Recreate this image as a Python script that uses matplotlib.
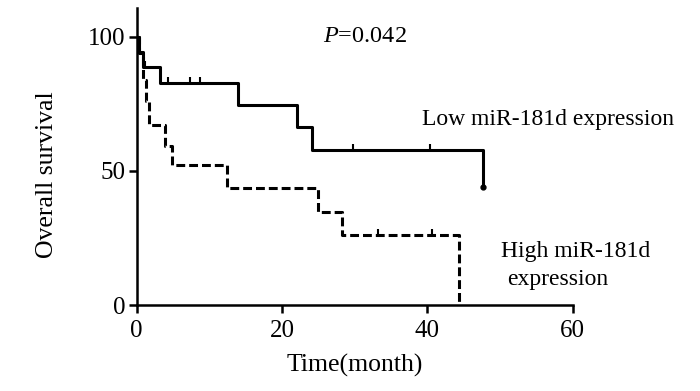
import matplotlib
matplotlib.use("Agg")
import matplotlib.pyplot as plt
from matplotlib.markers import TICKUP

plt.rcParams['font.family'] = ['Liberation Serif', 'DejaVu Serif']
plt.rcParams['mathtext.fontset'] = 'custom'
plt.rcParams['mathtext.it'] = 'Liberation Serif:italic'
plt.rcParams['mathtext.rm'] = 'Liberation Serif'

# Low miR-181d expression (solid) step curve
low_t = [0, 0.35, 0.8, 3.2, 14.0, 22.0, 24.1, 47.7]
low_s = [100, 94.4, 88.9, 82.6, 74.4, 66.2, 57.9, 43.9]
low_cens_t = [1.1, 4.35, 7.3, 8.7, 29.7, 40.4]
low_cens_s = [88.9, 82.6, 82.6, 82.6, 57.9, 57.9]
low_end_t = [47.7]
low_end_s = [43.9]

# High miR-181d expression (dashed) step curve
high_t = [0, 0.3, 0.8, 1.3, 1.7, 3.9, 4.8, 12.4, 25.0, 28.2, 44.3]
high_s = [100, 94, 84, 76, 67.2, 59.1, 52.2, 43.5, 34.8, 26.1, 0]
high_cens_t = [33.2, 40.6]
high_cens_s = [26.1, 26.1]

xticks = [0, 20, 40, 60]
yticks = [0, 50, 100]

W, H = 700, 391
fig = plt.figure(figsize=(7, 3.91), dpi=100)
ax = fig.add_axes([136.7 / W, (H - 305) / H, (572.7 - 136.7) / W, (305 - 8.3) / H])

ax.step(low_t, low_s, where='post', color='black', lw=2.2, solid_capstyle='butt', clip_on=False, zorder=3)
ax.plot(low_cens_t, low_cens_s, ls='none', marker=TICKUP, ms=4.5, mew=1.5, color='black', zorder=3)
ax.plot(low_end_t, low_end_s, ls='none', marker='o', ms=3.5, color='black', zorder=3)

ax.step(high_t, high_s, where='post', color='black', lw=2.2, dashes=(2.9, 1.3), clip_on=False, zorder=3)
ax.plot(high_cens_t, high_cens_s, ls='none', marker=TICKUP, ms=4.5, mew=1.5, color='black', zorder=3)

ax.set_xlim(0, 60)
ax.set_ylim(0, 110.6)
ax.set_xticks(xticks)
ax.set_yticks(yticks)
for s in ['top', 'right']:
    ax.spines[s].set_visible(False)
for s in ['left', 'bottom']:
    ax.spines[s].set_linewidth(1.8)
ax.tick_params(axis='both', direction='out', length=5.8, width=1.8, labelsize=18)
ax.tick_params(axis='x', pad=5)
ax.tick_params(axis='y', pad=2.5)

fig.text(47 / W, 1 - 175 / H, 'Overall survival', rotation=90, ha='center', va='center', fontsize=18.5)
fig.text(355 / W, 1 - 371.7 / H, 'Time(month)', ha='center', va='baseline', fontsize=18.5)
fig.text(323 / W, 1 - 41.7 / H, r'$P$=0.042', ha='left', va='baseline', fontsize=17.5)
fig.text(421.7 / W, 1 - 125 / H, 'Low miR-181d expression', ha='left', va='baseline', fontsize=17)
fig.text(500.7 / W, 1 - 256.7 / H, 'High miR-181d', ha='left', va='baseline', fontsize=17)
fig.text(506.7 / W, 1 - 285 / H, 'expression', ha='left', va='baseline', fontsize=17)

fig.savefig('out.png', dpi=100)
